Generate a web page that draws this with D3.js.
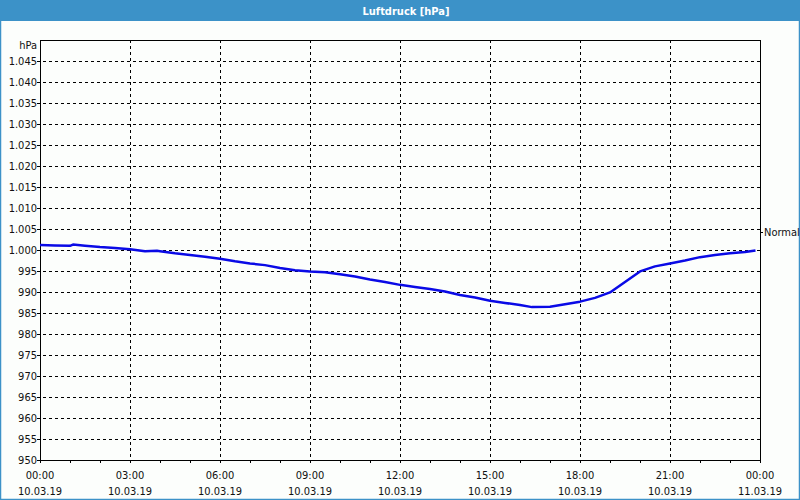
<!DOCTYPE html>
<html><head><meta charset="utf-8">
<script src="https://cdn.jsdelivr.net/npm/d3@7"></script>
<style>
html,body{margin:0;padding:0;background:#fcfefc;}
svg{display:block;}
text{font-family:"DejaVu Sans Condensed","DejaVu Sans",sans-serif;font-size:11px;fill:#111;}
</style></head>
<body>
<svg id="c" width="800" height="500"></svg>
<script>
const title = "Luftdruck [hPa]";
const unitLabel = "hPa";
const normalLabel = "Normal";
const normalValue = 1004.3;
// hours since 10.03.19 00:00
const hours = [0,0.5,1,1.1,1.5,2,2.5,3,3.5,3.9,4,4.5,5,5.5,6,6.5,7,7.5,8,8.5,9,9.5,10,10.5,11,11.5,12,12.5,13,13.5,14,14.5,15,15.5,16,16.4,17,17.5,18,18.5,19,19.5,20,20.5,21,21.5,22,22.5,23,23.5,23.85];
const pressure = [1001.2,1001.1,1001.0,1001.3,1001.0,1000.7,1000.5,1000.2,999.7,999.8,999.7,999.2,998.8,998.4,997.9,997.3,996.8,996.4,995.7,995.2,994.9,994.7,994.2,993.7,993.0,992.4,991.7,991.2,990.7,990.1,989.3,988.7,987.9,987.4,986.9,986.4,986.5,987.1,987.7,988.6,989.9,992.4,994.9,996.1,996.8,997.5,998.3,998.8,999.2,999.5,999.9];
const yTicks = [950,955,960,965,970,975,980,985,990,995,1000,1005,1010,1015,1020,1025,1030,1035,1040,1045];
const xTickHours = [0,3,6,9,12,15,18,21,24];
const xTimeLabels = ["00:00","03:00","06:00","09:00","12:00","15:00","18:00","21:00","00:00"];
const xDateLabels = ["10.03.19","10.03.19","10.03.19","10.03.19","10.03.19","10.03.19","10.03.19","10.03.19","11.03.19"];
const minorHours = d3.range(0,25,1);

const svg = d3.select("#c");
const W=800,H=500;
const L=40,R=760,T=40,B=460;
const x = d3.scaleLinear().domain([0,24]).range([L,R]);
const y = d3.scaleLinear().domain([950,1050]).range([B,T]);

// background + frame
svg.append("rect").attr("x",0).attr("y",0).attr("width",W).attr("height",H).attr("fill","#fcfefc");
svg.append("rect").attr("x",0.5).attr("y",0.5).attr("width",W-1).attr("height",H-1).attr("fill","none").attr("stroke","#3c92c8").attr("stroke-width",1.5);
svg.append("rect").attr("x",0).attr("y",0).attr("width",W).attr("height",21).attr("fill","#3c92c8");
svg.append("text").attr("x",406).attr("y",14.5).attr("text-anchor","middle")
  .style("fill","#fff").style("font-weight","bold").text(title);

const fmt = v => v>=1000 ? "1." + String(v-1000).padStart(3,"0") : String(v);

// grid
const g = svg.append("g");
g.selectAll("line.hg").data(yTicks.filter(v=>v>950)).enter().append("line")
  .attr("x1",L-3).attr("x2",R).attr("y1",d=>Math.round(y(d))+0.5).attr("y2",d=>Math.round(y(d))+0.5)
  .attr("stroke","#000").attr("stroke-dasharray","3,3").attr("shape-rendering","crispEdges");
g.selectAll("line.vg").data(xTickHours.filter(h=>h>0&&h<24)).enter().append("line")
  .attr("x1",d=>Math.round(x(d))+0.5).attr("x2",d=>Math.round(x(d))+0.5).attr("y1",T).attr("y2",B+4)
  .attr("stroke","#000").attr("stroke-dasharray","3,3").attr("shape-rendering","crispEdges");
// minor ticks
g.selectAll("line.mt").data(minorHours).enter().append("line")
  .attr("x1",d=>Math.round(x(d))+0.5).attr("x2",d=>Math.round(x(d))+0.5).attr("y1",B).attr("y2",B+3)
  .attr("stroke","#000").attr("shape-rendering","crispEdges");
// y tick marks
g.selectAll("line.yt").data(yTicks).enter().append("line")
  .attr("x1",L-3).attr("x2",L).attr("y1",d=>Math.round(y(d))+0.5).attr("y2",d=>Math.round(y(d))+0.5)
  .attr("stroke","#000").attr("shape-rendering","crispEdges");
// frame
svg.append("rect").attr("x",L+0.5).attr("y",T+0.5).attr("width",R-L).attr("height",B-T)
  .attr("fill","none").attr("stroke","#000").attr("shape-rendering","crispEdges");

// y labels
svg.selectAll("text.yl").data(yTicks).enter().append("text")
  .attr("x",L-3).attr("y",d=>y(d)+4).attr("text-anchor","end").text(fmt);
svg.append("text").attr("x",L-3).attr("y",T+9).attr("text-anchor","end").text(unitLabel);

// x labels
svg.selectAll("text.xt").data(xTickHours).enter().append("text")
  .attr("x",d=>x(d)).attr("y",479).attr("text-anchor","middle").text((d,i)=>xTimeLabels[i]);
svg.selectAll("text.xd").data(xTickHours).enter().append("text")
  .attr("x",d=>x(d)).attr("y",495).attr("text-anchor","middle").text((d,i)=>xDateLabels[i]);

// normal marker
svg.append("line").attr("x1",R).attr("x2",R+3).attr("y1",Math.round(y(normalValue))+0.5).attr("y2",Math.round(y(normalValue))+0.5)
  .attr("stroke","#000").attr("shape-rendering","crispEdges");
svg.append("text").attr("x",R+4).attr("y",y(normalValue)+4).text(normalLabel);

// line
const line = d3.line().x((d,i)=>x(hours[i])).y(d=>y(d));
svg.append("path").datum(pressure).attr("d",line)
  .attr("fill","none").attr("stroke","#0a0ae6").attr("stroke-width",2.5).attr("stroke-linejoin","round");
</script>
</body></html>
